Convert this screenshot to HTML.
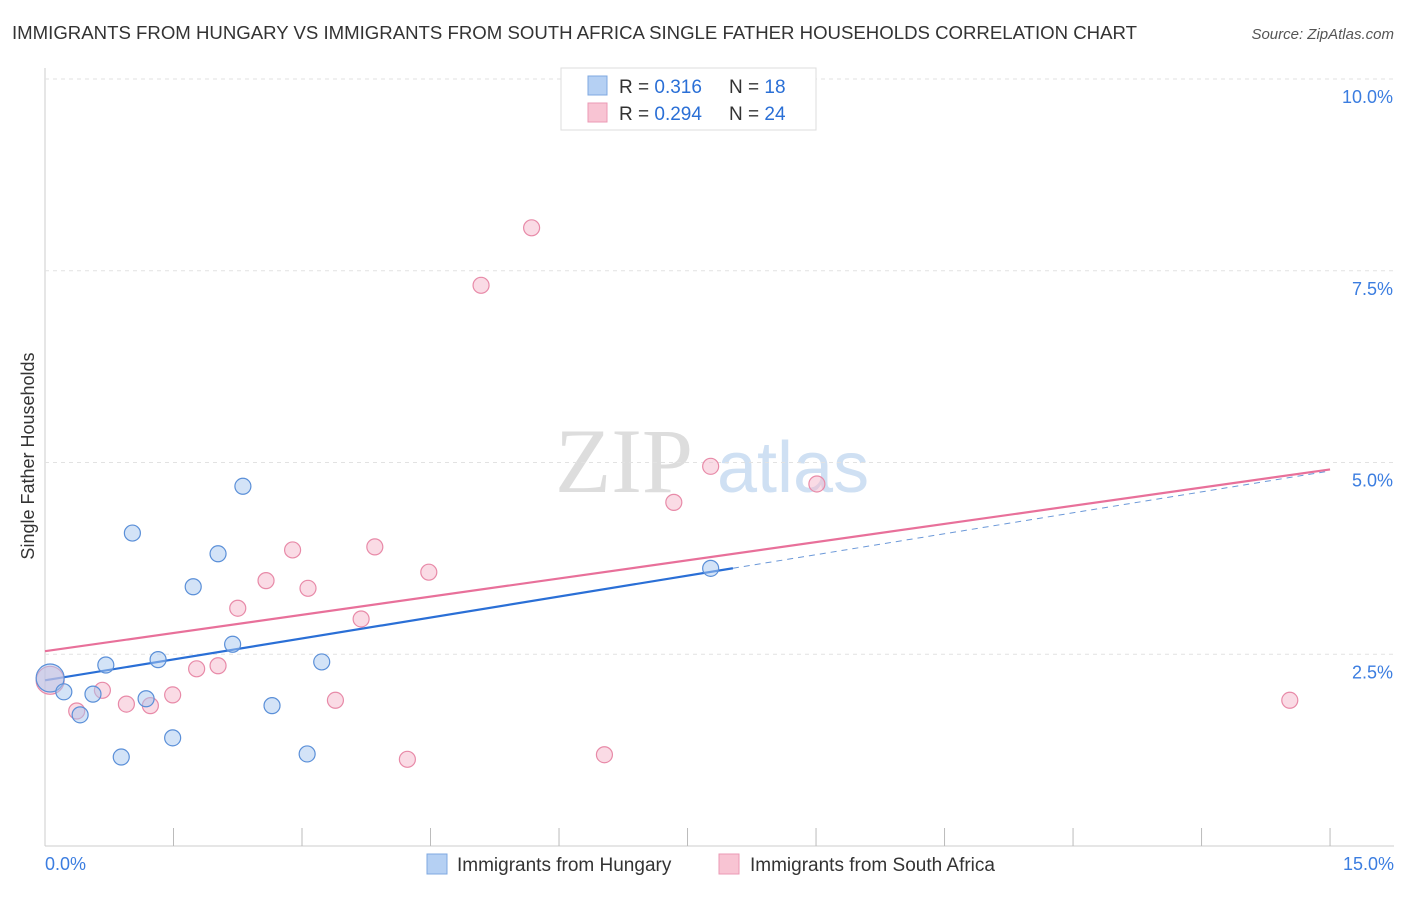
<!DOCTYPE html>
<html><head><meta charset="utf-8"><style>
body{margin:0;background:#fff;font-family:"Liberation Sans",sans-serif;}
svg text{font-family:"Liberation Sans",sans-serif;}
</style></head><body>
<svg id="chart" width="1406" height="892">
<text x="12" y="39" font-size="18" fill="#333" textLength="1125" lengthAdjust="spacingAndGlyphs">IMMIGRANTS FROM HUNGARY VS IMMIGRANTS FROM SOUTH AFRICA SINGLE FATHER HOUSEHOLDS CORRELATION CHART</text>
<text x="1394" y="39" font-size="15" fill="#555" font-style="italic" text-anchor="end">Source: ZipAtlas.com</text>
<text x="34" y="456" font-size="18" fill="#333" text-anchor="middle" transform="rotate(-90 34 456)">Single Father Households</text>
<g><text x="555" y="492" font-size="92" fill="#ddd" style="font-family:'Liberation Serif',serif">ZIP</text><text x="717" y="492" font-size="72" fill="#cfe0f3">atlas</text></g>
<g id="grid"></g><g id="lines"></g><g id="pts"></g>
<g>
<rect x="561" y="68" width="255" height="62" fill="#fff" stroke="#ddd"/>
<rect x="588" y="76" width="19" height="19" fill="#b5d0f3" stroke="#7fa8e0"/>
<rect x="588" y="103" width="19" height="19" fill="#f8c4d3" stroke="#eb9ab4"/>
<text x="619" y="93" font-size="19" fill="#333">R = <tspan fill="#2a6fd6">0.316</tspan></text>
<text x="729" y="93" font-size="19" fill="#333">N = <tspan fill="#2a6fd6"> 18</tspan></text>
<text x="619" y="120" font-size="19" fill="#333">R = <tspan fill="#2a6fd6">0.294</tspan></text>
<text x="729" y="120" font-size="19" fill="#333">N = <tspan fill="#2a6fd6">24</tspan></text>
</g>
<g>
<rect x="427" y="854" width="20" height="20" fill="#b5d0f3" stroke="#7fa8e0"/>
<text x="457" y="871" font-size="19" fill="#333">Immigrants from Hungary</text>
<rect x="719" y="854" width="20" height="20" fill="#f8c4d3" stroke="#eb9ab4"/>
<text x="750" y="871" font-size="19" fill="#333">Immigrants from South Africa</text>
</g>
</svg>
<script>
const hungaryX=[0.06,0.22,0.41,0.56,0.71,0.89,1.02,1.18,1.32,1.49,1.73,2.02,2.19,2.31,2.65,3.06,3.23,7.77];
const hungaryY=[2.19,2.01,1.71,1.98,2.36,1.16,4.08,1.92,2.43,1.41,3.38,3.81,2.63,4.69,1.83,1.20,2.40,3.62];
const africaX=[0.06,0.37,0.67,0.95,1.23,1.49,1.77,2.02,2.25,2.58,2.89,3.07,3.39,3.69,3.85,4.23,4.48,5.09,5.68,6.53,7.34,7.77,9.01,14.53];
const africaY=[2.16,1.76,2.03,1.85,1.83,1.97,2.31,2.35,3.10,3.46,3.86,3.36,1.90,2.96,3.90,1.13,3.57,7.31,8.06,1.19,4.48,4.95,4.72,1.90];
const yTicks=[2.5,5.0,7.5,10.0];
const xTicks=[0,1.5,3,4.5,6,7.5,9,10.5,12,13.5,15];
const hungaryTrend=[2.16,0.182];
const africaTrend=[2.54,0.158];
const NS="http://www.w3.org/2000/svg";
const sx=v=>45+v*85.67, sy=v=>846-v*76.7;
function mk(p,t,a){const e=document.createElementNS(NS,t);for(const k in a)e.setAttribute(k,a[k]);p.appendChild(e);return e;}
const grid=document.getElementById('grid'),lines=document.getElementById('lines'),pts=document.getElementById('pts');
mk(grid,'line',{x1:45,y1:68,x2:45,y2:846,stroke:'#ccc'});
mk(grid,'line',{x1:45,y1:846,x2:1394,y2:846,stroke:'#ccc'});
yTicks.forEach(t=>{const g=mk(grid,'line',{x1:45,x2:1394,y1:sy(t),y2:sy(t),stroke:'#e2e2e2','stroke-dasharray':'4,4'});


const l=mk(grid,'text',{x:1393,y:sy(t)+24,'font-size':18,fill:'#3b7de0','text-anchor':'end'});l.textContent=t.toFixed(1)+'%';

});
xTicks.forEach((t,i)=>{if(i>0){const k=mk(grid,'line',{x1:sx(t),x2:sx(t),y1:828,y2:846,stroke:'#bbb'});

}});
[[0,'start',45],[15,'end',1394]].forEach(([t,a,x])=>{const l=mk(grid,'text',{x:x,y:870,'font-size':18,fill:'#3b7de0','text-anchor':a});l.textContent=t.toFixed(1)+'%';

});
function pl(tr,x0,x1,col,dash,name){const e=mk(lines,'line',{x1:sx(x0),y1:sy(tr[0]+tr[1]*x0),x2:sx(x1),y2:sy(tr[0]+tr[1]*x1),stroke:col,'stroke-width':dash?1:2.2});if(dash)e.setAttribute('stroke-dasharray','6,5');

}
pl(hungaryTrend,0,8.03,'#2a6fd6',false,'hungary-trendline');
pl(hungaryTrend,8.03,15,'#6b98d8',true,'hungary-trendline-extension');
pl(africaTrend,0,15,'#e8709a',false,'south-africa-trendline');
function dots(X,Y,f,s,name){X.forEach((x,i)=>{const c=mk(pts,'circle',{cx:sx(x),cy:sy(Y[i]),r:i==0?14:8,fill:f,stroke:s,'stroke-width':1.2,'fill-opacity':0.5});

});}
dots(africaX,africaY,'#f5b8cb','#e88aa8','south-africa-point');
dots(hungaryX,hungaryY,'#a8c8f0','#5a8fd8','hungary-point');
</script>
</body></html>
